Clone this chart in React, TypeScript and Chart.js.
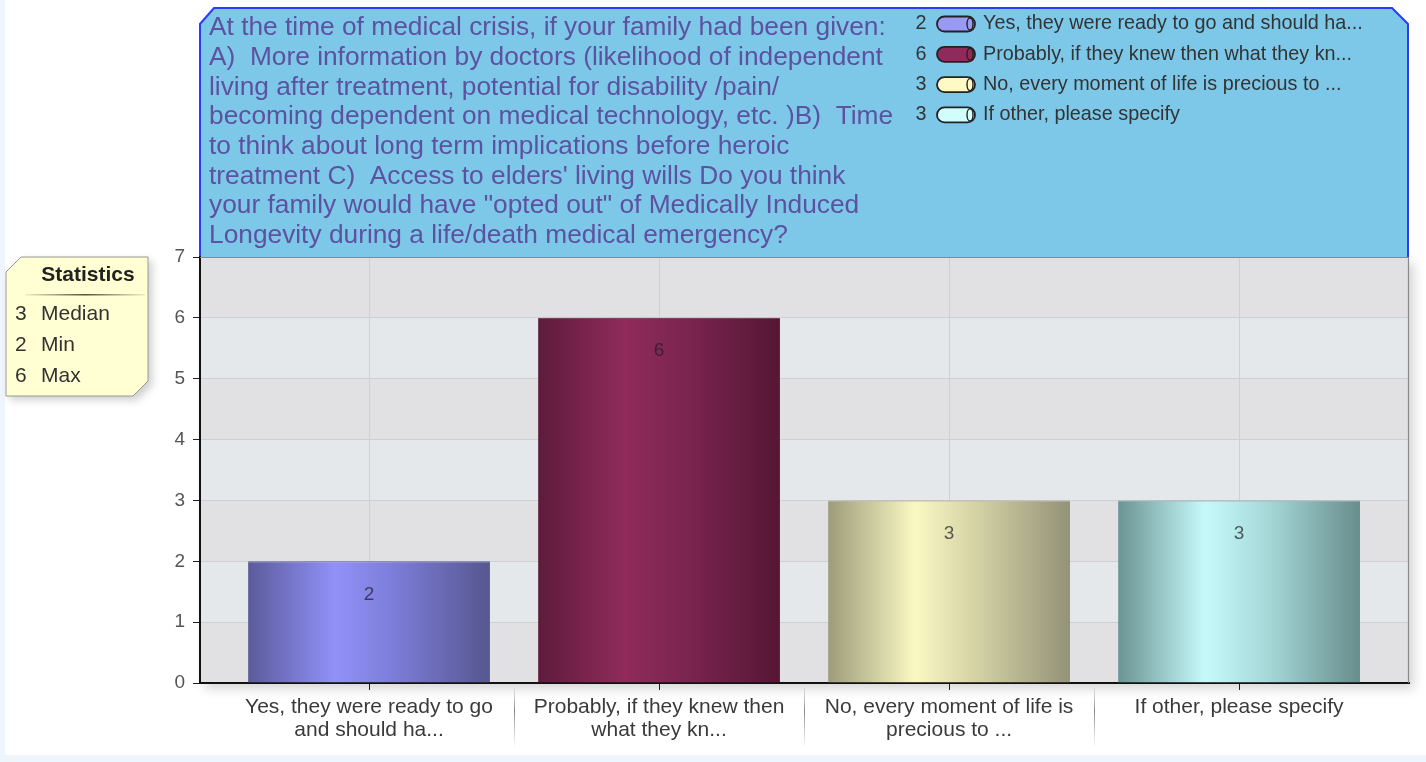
import React, { useEffect, useRef } from "react";
import { Chart, registerables } from "chart.js";

Chart.register(...registerables);

const W = 1426;
const H = 762;
const FONT = "'Liberation Sans', Arial, Helvetica, sans-serif";

// ---- data ----
const categoryLines: string[][] = [
  ["Yes, they were ready to go", "and should ha..."],
  ["Probably, if they knew then", "what they kn..."],
  ["No, every moment of life is", "precious to ..."],
  ["If other, please specify"],
];
const legendLabels: string[] = [
  "Yes, they were ready to go and should ha...",
  "Probably, if they knew then what they kn...",
  "No, every moment of life is precious to ...",
  "If other, please specify",
];
const values: number[] = [2, 6, 3, 3];
const yTicks: number[] = [0, 1, 2, 3, 4, 5, 6, 7];
const titleLines: string[] = [
  "At the time of medical crisis, if your family had been given:",
  "A)  More information by doctors (likelihood of independent",
  "living after treatment, potential for disability /pain/",
  "becoming dependent on medical technology, etc. )B)  Time",
  "to think about long term implications before heroic",
  "treatment C)  Access to elders' living wills Do you think",
  "your family would have \"opted out\" of Medically Induced",
  "Longevity during a life/death medical emergency?",
];
const statLabels: string[] = ["Median", "Min", "Max"];

// styles
const barGradients: string[][] = [
  ["#5b5b9b", "#9191f9", "#7b7bd6", "#56568f"],
  ["#5e1b3c", "#902b5b", "#7a2450", "#561634"],
  ["#9c9c7b", "#faf8c2", "#d3d1a4", "#949278"],
  ["#6b9393", "#c6fafa", "#a6d8d8", "#688d8d"],
];
const legendColors: string[] = ["#9a9af5", "#8f2a5a", "#fff9c4", "#d2fdfd"];
const BAR_PCT = 0.834;

function median(arr: number[]) {
  const s = [...arr].sort((a, b) => a - b);
  const m = Math.floor(s.length / 2);
  return s.length % 2 ? s[m] : (s[m - 1] + s[m]) / 2;
}

const decorPlugin = {
  id: "decor",
  beforeDraw(chart: any) {
    const { ctx, chartArea: a } = chart;
    const y = chart.scales.y;
    ctx.save();
    ctx.fillStyle = "#eef5fd";
    ctx.fillRect(0, 0, W, H);
    ctx.fillStyle = "#ffffff";
    ctx.fillRect(5, 0, W - 5, 755);

    // plot shadow + bands
    ctx.save();
    ctx.shadowColor = "rgba(0,0,0,0.16)";
    ctx.shadowBlur = 10;
    ctx.shadowOffsetX = 5;
    ctx.shadowOffsetY = 6;
    ctx.fillStyle = "#e2e2e4";
    ctx.fillRect(a.left, a.top, a.width, a.height);
    ctx.restore();
    const yMax = yTicks[yTicks.length - 1];
    for (let v = 0; v < yMax; v++) {
      const top = y.getPixelForValue(v + 1);
      const bot = y.getPixelForValue(v);
      ctx.fillStyle = v % 2 === 0 ? "#e1e1e3" : "#e5e8eb";
      ctx.fillRect(a.left, top, a.width, bot - top);
    }

    // title box
    const L = a.left, R = a.right - 1, T = 8, B = a.top;
    ctx.beginPath();
    ctx.moveTo(L, B);
    ctx.lineTo(L, T + 16);
    ctx.lineTo(L + 14, T);
    ctx.lineTo(R - 16, T);
    ctx.lineTo(R, T + 16);
    ctx.lineTo(R, B);
    ctx.closePath();
    ctx.fillStyle = "#7dc8e9";
    ctx.fill();
    ctx.beginPath();
    ctx.moveTo(L, B);
    ctx.lineTo(L, T + 16);
    ctx.lineTo(L + 14, T);
    ctx.lineTo(R - 16, T);
    ctx.lineTo(R, T + 16);
    ctx.lineTo(R, B);
    ctx.strokeStyle = "#2a3cf5";
    ctx.lineWidth = 2;
    ctx.stroke();

    ctx.fillStyle = "#5c52a0";
    ctx.font = `26.3px ${FONT}`;
    ctx.textBaseline = "middle";
    ctx.textAlign = "left";
    titleLines.forEach((t, i) => ctx.fillText(t, L + 9, 28 + i * 29.7));

    // legend
    ctx.font = `19.8px ${FONT}`;
    values.forEach((v, i) => {
      const cy = 24 + i * 30.3;
      ctx.fillStyle = "#333";
      ctx.textAlign = "center";
      ctx.fillText(String(v), 921, cy);
      // cylinder icon
      const x0 = 937, x1 = 975, h = 15, r = 7.5;
      ctx.beginPath();
      ctx.moveTo(x0 + r, cy - h / 2);
      ctx.lineTo(x1 - r, cy - h / 2);
      ctx.arc(x1 - r, cy, r, -Math.PI / 2, Math.PI / 2);
      ctx.lineTo(x0 + r, cy + h / 2);
      ctx.arc(x0 + r, cy, r, Math.PI / 2, (3 * Math.PI) / 2);
      ctx.closePath();
      ctx.fillStyle = legendColors[i];
      ctx.fill();
      ctx.strokeStyle = "#222";
      ctx.lineWidth = 1.8;
      ctx.stroke();
      ctx.beginPath();
      ctx.ellipse(x1 - 5, cy, 3, h / 2 - 1.5, 0, 0, Math.PI * 2);
      ctx.strokeStyle = "#222";
      ctx.lineWidth = 1.4;
      ctx.stroke();
      ctx.fillStyle = "#333";
      ctx.textAlign = "left";
      ctx.fillText(legendLabels[i], 983, cy);
    });

    // statistics box
    const sx0 = 6, sy0 = 257, sx1 = 148, sy1 = 396;
    ctx.save();
    ctx.shadowColor = "rgba(0,0,0,0.2)";
    ctx.shadowBlur = 8;
    ctx.shadowOffsetX = 4;
    ctx.shadowOffsetY = 4;
    ctx.beginPath();
    ctx.moveTo(sx0, sy0 + 15);
    ctx.lineTo(sx0 + 15, sy0);
    ctx.lineTo(sx1, sy0);
    ctx.lineTo(sx1, sy1 - 15);
    ctx.lineTo(sx1 - 15, sy1);
    ctx.lineTo(sx0, sy1);
    ctx.closePath();
    ctx.fillStyle = "#ffffd3";
    ctx.fill();
    ctx.restore();
    ctx.strokeStyle = "#9a9a90";
    ctx.lineWidth = 1;
    ctx.stroke();
    ctx.fillStyle = "#222";
    ctx.font = `bold 21px ${FONT}`;
    ctx.textAlign = "center";
    ctx.fillText("Statistics", 88, 275);
    const g = ctx.createLinearGradient(25, 0, 145, 0);
    g.addColorStop(0, "rgba(80,80,70,0.1)");
    g.addColorStop(0.5, "rgba(60,60,50,0.9)");
    g.addColorStop(1, "rgba(80,80,70,0.1)");
    ctx.fillStyle = g;
    ctx.fillRect(25, 294, 120, 1.5);
    const stats = [median(values), Math.min(...values), Math.max(...values)];
    ctx.font = `21px ${FONT}`;
    ctx.fillStyle = "#333";
    stats.forEach((s, i) => {
      const cy = 314 + i * 31;
      ctx.textAlign = "left";
      ctx.fillText(String(s), 15, cy);
      ctx.fillText(statLabels[i], 41, cy);
    });
    ctx.restore();
  },
  afterDatasetsDraw(chart: any) {
    const { ctx, chartArea: a } = chart;
    ctx.save();
    ctx.strokeStyle = "#8a8a8a";
    ctx.lineWidth = 1.2;
    ctx.beginPath();
    ctx.moveTo(a.right - 0.5, a.top);
    ctx.lineTo(a.right - 0.5, a.bottom);
    ctx.moveTo(a.left, a.top + 0.5);
    ctx.lineTo(a.right, a.top + 0.5);
    ctx.stroke();
    const meta = chart.getDatasetMeta(0);
    ctx.font = `19px ${FONT}`;
    ctx.fillStyle = "rgba(30,30,40,0.72)";
    ctx.textAlign = "center";
    ctx.textBaseline = "middle";
    meta.data.forEach((el: any, i: number) => {
      ctx.fillText(String(values[i]), el.x, el.y + 33);
    });
    ctx.restore();
  },
  afterDraw(chart: any) {
    const { ctx } = chart;
    const xs = chart.scales.x;
    ctx.save();
    for (let i = 0; i < values.length - 1; i++) {
      const x = Math.round((xs.getPixelForValue(i) + xs.getPixelForValue(i + 1)) / 2) + 0.5;
      const g = ctx.createLinearGradient(0, 688, 0, 746);
      g.addColorStop(0, "rgba(150,150,150,0.2)");
      g.addColorStop(0.4, "rgba(120,120,120,0.9)");
      g.addColorStop(1, "rgba(170,170,170,0.1)");
      ctx.strokeStyle = g;
      ctx.lineWidth = 1;
      ctx.beginPath();
      ctx.moveTo(x, 688);
      ctx.lineTo(x, 746);
      ctx.stroke();
    }
    ctx.restore();
  },
};

export default function App() {
  const ref = useRef<HTMLCanvasElement | null>(null);
  useEffect(() => {
    if (!ref.current) return;
    const chart = new Chart(ref.current, {
      type: "bar",
      data: {
        datasets: [
          {
            data: values.map((v, i) => ({ x: i, y: v })),
            barPercentage: BAR_PCT,
            categoryPercentage: 1,
            borderWidth: { top: 1, left: 0, right: 0, bottom: 0 },
            borderColor: (c: any) => barGradients[c.dataIndex % 4][0],
            borderSkipped: false,
            backgroundColor: (c: any) => {
              const chart = c.chart;
              const xs = chart.scales && chart.scales.x;
              const stops = barGradients[c.dataIndex % 4];
              if (!xs || !chart.chartArea || c.type !== "data") return stops[1];
              const cx = xs.getPixelForValue(c.dataIndex);
              const half = ((xs.getPixelForValue(1) - xs.getPixelForValue(0)) * BAR_PCT) / 2;
              const g = chart.ctx.createLinearGradient(cx - half, 0, cx + half, 0);
              g.addColorStop(0, stops[0]);
              g.addColorStop(0.36, stops[1]);
              g.addColorStop(0.62, stops[2]);
              g.addColorStop(1, stops[3]);
              return g;
            },
          } as any,
        ],
      },
      options: {
        responsive: false,
        animation: false,
        layout: { padding: { left: 150, top: 257, right: 17, bottom: 0 } },
        plugins: { legend: { display: false }, tooltip: { enabled: false }, title: { display: false } },
        scales: {
          x: {
            type: "linear",
            offset: false,
            min: -0.5828,
            max: 3.586,
            afterBuildTicks: (s: any) => {
              s.ticks = values.map((_, i) => ({ value: i }));
            },
            afterFit: (s: any) => {
              s.height = 79;
            },
            ticks: {
              callback: (v: any) => categoryLines[v] ?? "",
              color: "#3a3a3a",
              font: { family: FONT, size: 21, lineHeight: 1.1 },
              padding: 6,
              maxRotation: 0,
              autoSkip: false,
            },
            grid: { offset: false, color: "#d0d0d2", tickColor: "#222", tickLength: 7, lineWidth: 1 },
            border: { color: "#111", width: 2 },
          },
          y: {
            min: 0,
            max: yTicks[yTicks.length - 1],
            afterBuildTicks: (s: any) => {
              s.ticks = yTicks.map((v) => ({ value: v }));
            },
            afterFit: (s: any) => {
              s.width = 50;
            },
            ticks: {
              color: "#555",
              font: { family: FONT, size: 19 },
              padding: 8,
            },
            grid: { color: "#cfd0d3", tickColor: "#222", tickLength: 7, lineWidth: 1 },
            border: { color: "#111", width: 2 },
          },
        },
      },
      plugins: [decorPlugin as any],
    });
    return () => chart.destroy();
  }, []);
  return (
    <div style={{ position: "absolute", left: 0, top: 0, width: W, height: H }}>
      <canvas ref={ref} width={W} height={H} style={{ display: "block", width: W, height: H }} />
    </div>
  );
}
